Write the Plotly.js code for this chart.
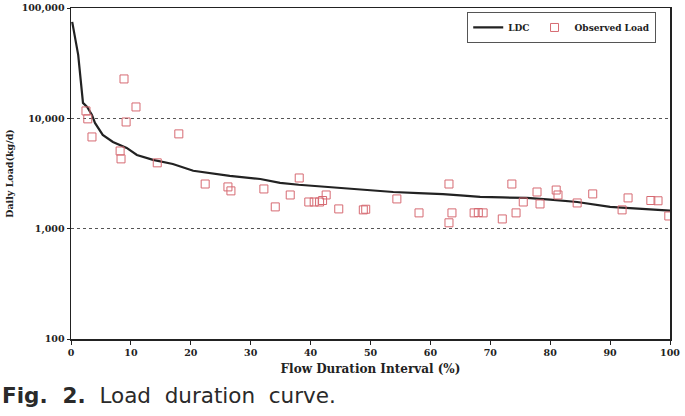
<!DOCTYPE html>
<html>
<head>
<meta charset="utf-8">
<script src="https://cdn.plot.ly/plotly-3.0.1.min.js"></script>
<style>
  html, body { margin: 0; padding: 0; background: #fff; }
  #chart { width: 685px; height: 416px; }
</style>
</head>
<body>
<div id="chart"></div>
<script>
// Load duration curve (flow duration interval %, daily load kg/d)
const ldcX = [0.2, 1.2, 2.0, 2.7, 3.5, 4.0, 5.3, 7.0, 9.3, 11.0, 13.7, 17.0, 20.4, 23.0, 26.5, 31.6, 34.9, 38.0, 42.7, 48.0, 53.8, 58.0, 62.1, 65.0, 68.3, 72.0, 76.1, 80.0, 84.5, 90.0, 96.7, 100.0];
const ldcY = [74800, 37600, 13800, 12680, 10740, 9080, 7080, 6110, 5390, 4650, 4200, 3860, 3350, 3180, 3010, 2820, 2600, 2500, 2390, 2250, 2150, 2100, 2060, 2000, 1940, 1920, 1900, 1830, 1745, 1575, 1510, 1460];

// Observed loads
const obsX = [2.5, 2.8, 3.5, 8.85, 10.85, 9.2, 8.2, 8.35, 18.0, 14.4, 22.4, 26.2, 26.7, 32.2, 34.1, 36.6, 38.1, 39.7, 40.6, 41.5, 42.0, 42.6, 44.7, 48.8, 49.2, 54.4, 58.1, 63.1, 63.6, 63.1, 67.3, 68.0, 68.8, 72.0, 73.6, 74.3, 75.5, 77.8, 78.3, 81.0, 81.3, 84.5, 87.1, 92.0, 93.0, 96.8, 98.0, 99.8];
const obsY = [11670, 9890, 6780, 22750, 12680, 9270, 5060, 4290, 7230, 3950, 2540, 2390, 2200, 2290, 1575, 2020, 2880, 1745, 1745, 1745, 1800, 2020, 1510, 1480, 1500, 1860, 1390, 2540, 1390, 1130, 1390, 1400, 1390, 1225, 2540, 1390, 1745, 2150, 1675, 2240, 2020, 1710, 2065, 1480, 1900, 1800, 1790, 1303];

const yTickVals = [100, 1000, 10000, 100000];
const yTickText = ['100', '1,000', '10,000', '100,000'];
const xTickVals = [0, 10, 20, 30, 40, 50, 60, 70, 80, 90, 100];

const SERIF = 'DejaVu Serif, serif';
const tickFont = { family: SERIF, size: 9.5, color: '#222', weight: 'bold' };

const traces = [
  {
    x: ldcX, y: ldcY, name: 'LDC', type: 'scatter', mode: 'lines',
    line: { color: '#222', width: 2.2 }
  },
  {
    x: obsX, y: obsY, name: 'Observed Load', type: 'scatter', mode: 'markers',
    marker: { symbol: 'square-open', size: 8, color: '#d66a72', line: { width: 1, color: '#d66a72' } }
  }
];

const layout = {
  width: 685, height: 416,
  margin: { l: 71, r: 15, t: 8, b: 77 },
  paper_bgcolor: '#fff', plot_bgcolor: '#fff',
  showlegend: true,
  legend: {
    orientation: 'h', x: 0.977, xanchor: 'right', y: 0.988, yanchor: 'top',
    bordercolor: '#555', borderwidth: 1, bgcolor: '#fff',
    font: { family: SERIF, size: 9, color: '#222', weight: 'bold' },
    itemwidth: 30
  },
  xaxis: {
    range: [0, 100], tickvals: xTickVals,
    showgrid: false, zeroline: false,
    showline: true, linecolor: '#222', linewidth: 1.5, mirror: true,
    ticks: 'outside', ticklen: 4, tickcolor: '#222',
    tickfont: tickFont,
    title: { text: 'Flow Duration Interval (%)', font: { family: SERIF, size: 12, color: '#222', weight: 'bold' }, standoff: 7 }
  },
  yaxis: {
    type: 'log', range: [2, 5],
    tickvals: yTickVals, ticktext: yTickText,
    showgrid: true, gridcolor: '#555', gridwidth: 1, griddash: 'dot',
    zeroline: false,
    showline: true, linecolor: '#222', linewidth: 1.5, mirror: true,
    ticks: 'outside', ticklen: 3, tickcolor: '#222',
    tickfont: tickFont,
    title: { text: 'Daily Load(kg/d)', font: { family: SERIF, size: 9.5, color: '#222', weight: 'bold' }, standoff: 6 }
  },
  annotations: [
    {
      xref: 'paper', yref: 'paper', x: -0.1185, y: -0.172,
      xanchor: 'left', yanchor: 'middle', showarrow: false,
      text: '<b>Fig.&nbsp; 2.</b>&nbsp; Load&nbsp; duration&nbsp; curve.',
      font: { family: 'DejaVu Sans, sans-serif', size: 21.5, color: '#2a2a2a' }
    }
  ]
};

Plotly.newPlot('chart', traces, layout, { displayModeBar: false, staticPlot: true });
</script>
</body>
</html>
